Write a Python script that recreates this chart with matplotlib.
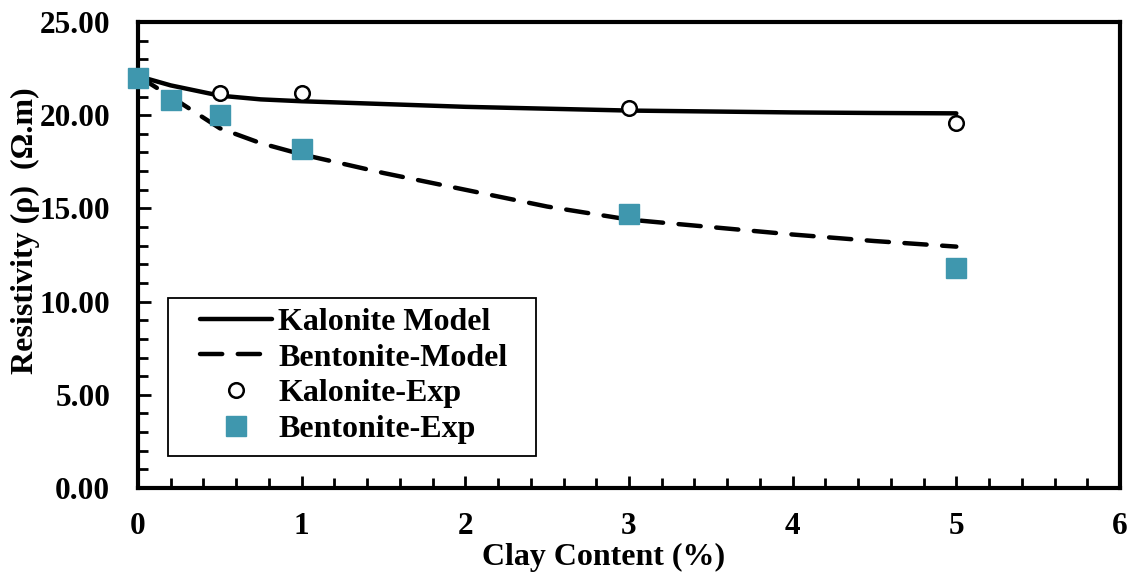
import matplotlib.pyplot as plt
from matplotlib.patches import Rectangle
from matplotlib.ticker import MultipleLocator

plt.rcParams['font.family'] = ['Liberation Serif', 'DejaVu Serif']
plt.rcParams['font.weight'] = 'bold'

# model curves (read at selected clay contents)
x_model = [0, 0.2, 0.5, 0.75, 1, 1.5, 2, 2.5, 3, 3.5, 4, 4.5, 5]
kal_model = [22.1, 21.6, 21.05, 20.85, 20.75, 20.6, 20.45, 20.35, 20.25, 20.2, 20.15, 20.12, 20.1]
ben_model = [22.1, 21.0, 19.3, 18.5, 17.9, 16.9, 16.0, 15.1, 14.4, 14.0, 13.6, 13.25, 12.95]

# experimental points
x_kal = [0, 0.5, 1, 3, 5]
kal_exp = [22.0, 21.2, 21.2, 20.4, 19.6]
x_ben = [0, 0.2, 0.5, 1, 3, 5]
ben_exp = [22.0, 20.8, 20.0, 18.2, 14.7, 11.8]

fig = plt.figure(figsize=(11.33, 5.75), dpi=100)
ax = fig.add_axes([0.1218, 0.1513, 0.8667, 0.8104])

ax.plot(x_model, kal_model, color='black', lw=3.2, label='Kalonite Model',
        solid_capstyle='round')
ax.plot(x_model, ben_model, color='black', lw=3.2, dashes=(5, 3.5),
        dash_capstyle='round', label='Bentonite-Model')
ax.plot(x_kal, kal_exp, 'o', ms=10.5, mfc='white', mec='black', mew=1.8,
        ls='none', label='Kalonite-Exp', clip_on=False, zorder=3)
ax.plot(x_ben, ben_exp, 's', ms=15, mfc='#3f97ae', mec='#3f97ae',
        ls='none', label='Bentonite-Exp', clip_on=False, zorder=4)

ax.set_xlim(0, 6)
ax.set_ylim(0, 25)
ax.xaxis.set_major_locator(MultipleLocator(1))
ax.xaxis.set_minor_locator(MultipleLocator(0.2))
ax.yaxis.set_major_locator(MultipleLocator(5))
ax.yaxis.set_minor_locator(MultipleLocator(1))
ax.yaxis.set_major_formatter(lambda v, p: f'{v:.2f}')
ax.tick_params(which='both', direction='in', top=False, right=False,
               labelsize=22.5, width=2)
ax.tick_params(which='major', length=9)
ax.tick_params(which='minor', length=7)
ax.tick_params(axis='x', pad=17)
ax.tick_params(axis='y', pad=20)
for s in ax.spines.values():
    s.set_linewidth(3)

ax.set_xlabel('Clay Content (%)', fontsize=23, fontweight='bold')
ax.xaxis.set_label_coords(0.474, -0.118)
ax.set_ylabel('Resistivity (ρ)  (Ω.m)', fontsize=23, fontweight='bold')
ax.yaxis.set_label_coords(-0.1, 0.553)

# legend box drawn separately
ax.add_patch(Rectangle((0.0305, 0.0688), 0.375, 0.34, transform=ax.transAxes,
                       fill=True, facecolor='white', edgecolor='black',
                       lw=1.3, zorder=5))
leg = ax.legend(loc='center left', bbox_to_anchor=(0.063, 0.241), fontsize=23,
                frameon=False, handlelength=2.25, borderpad=0,
                labelspacing=0.2, handletextpad=0.2, borderaxespad=0)
leg.set_zorder(6)

fig.savefig('out.png', dpi=100)
